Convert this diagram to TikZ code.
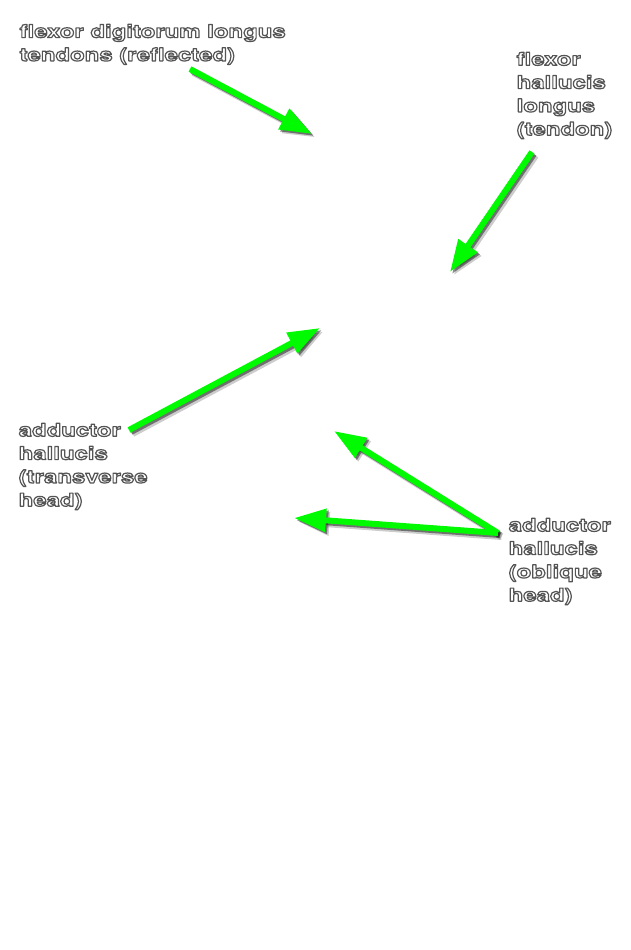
\documentclass[tikz,border=0pt]{standalone}
\usepackage{fontspec}
\newfontfamily\labfont[FakeStretch=1.33,BoldFont={* Bold}]{TeX Gyre Heros}
\usetikzlibrary{arrows.meta}
\definecolor{arrowgreen}{RGB}{0,250,0}
% white letters with a soft dark outline, set once (text render mode 2)
\newcommand{\outlined}[1]{%
  \special{pdf:literal direct 2 Tr 1.2 w 1 j 0.33 G 1 g}%
  #1%
  \special{pdf:literal direct 0 Tr 0 G 0 g}}
\tikzset{
  lab/.style={font=\labfont\bfseries\fontsize{18}{23.3}\selectfont,
    align=left, inner sep=0pt, anchor=north west},
  tipstyle/.style={-{Triangle[length=32pt,width=22pt]}},
  grarrow/.style={draw=arrowgreen, line width=6pt, tipstyle},
  grshA/.style={draw=black, line width=7pt, opacity=.2, tipstyle,
    transform canvas={shift={(3.5pt,-3.5pt)}}},
  grshB/.style={draw=black, line width=6pt, opacity=.45, tipstyle,
    transform canvas={shift={(2pt,-2pt)}}},
}
\newcommand{\greenarrow}[2]{%
  \draw[grshA] (#1) -- (#2);
  \draw[grshB] (#1) -- (#2);
  \draw[grarrow] (#1) -- (#2);
}
\begin{document}
\begin{tikzpicture}[x=1pt,y=-1pt]
  \useasboundingbox[fill=white] (0,0) rectangle (631,950);
  % label anchors (tops)
  \coordinate (p1) at (19.5,24);
  \coordinate (p2) at (516.5,52);
  \coordinate (p3) at (18.5,423);
  \coordinate (p4) at (508.5,518);
  % arrow ends
  \coordinate (t1) at (190,69);
  \coordinate (h1) at (312,134);
  \coordinate (t2) at (532,152);
  \coordinate (h2) at (450,272);
  \coordinate (t3) at (129,430);
  \coordinate (h3) at (320,328);
  \coordinate (t4) at (498,533);
  \coordinate (h4) at (334,431);
  \coordinate (h5) at (294,518);
  % arrows
  \greenarrow{t1}{h1}
  \greenarrow{t2}{h2}
  \greenarrow{t3}{h3}
  \greenarrow{t4}{h4}
  \greenarrow{t4}{h5}
  % labels
  \node[lab] (fdl) at (p1) {\outlined{flexor digitorum longus\\tendons (reflected)}};
  \node[lab] (fhl) at (p2) {\outlined{flexor\\hallucis\\longus\\(tendon)}};
  \node[lab] (aht) at (p3) {\outlined{adductor\\hallucis\\(transverse\\head)}};
  \node[lab] (aho) at (p4) {\outlined{adductor\\hallucis\\(oblique\\head)}};
\end{tikzpicture}
\end{document}
